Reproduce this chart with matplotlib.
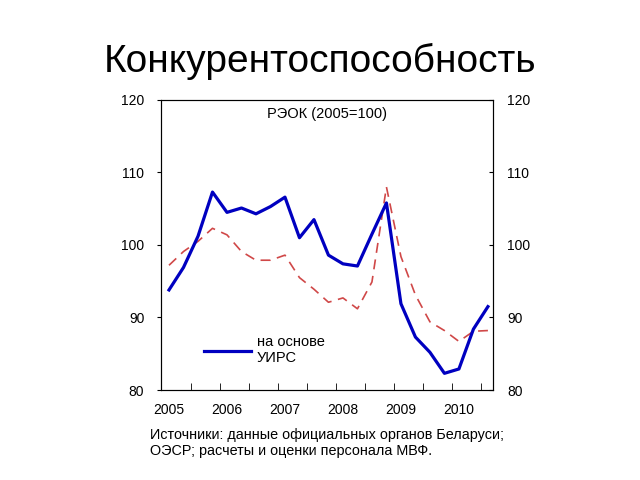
import numpy as np
import matplotlib.pyplot as plt

plt.rcParams['font.family'] = ['Liberation Sans', 'DejaVu Sans']

# quarterly data, 2005Q1 .. 2010Q3
quarters = np.arange(23)
reer_uirs = [93.8, 96.9, 101.2, 107.3, 104.5, 105.1, 104.3, 105.3, 106.6, 101.0,
             103.5, 98.6, 97.4, 97.1, 101.5, 105.8, 91.9, 87.3, 85.2, 82.3,
             82.9, 88.4, 91.5]
reer_other = [97.2, 99.1, 100.5, 102.3, 101.4, 99.1, 97.9, 97.9, 98.6, 95.5,
              93.9, 92.1, 92.7, 91.2, 94.9, 108.0, 98.4, 93.1, 89.4, 88.2,
              86.7, 88.1, 88.2]
year_labels = ['2005', '2006', '2007', '2008', '2009', '2010']
y_ticks = [80, 90, 100, 110, 120]

fig = plt.figure(figsize=(6.4, 4.8), dpi=100)
fig.text(0.5, 0.872, 'Конкурентоспособность', ha='center', va='center', fontsize=28)

ax = fig.add_axes([0.2516, 0.1875, 0.5187, 0.6042])
ax.plot(quarters, reer_other, color='#d04848', lw=1.2, dashes=(6, 4))
ax.plot(quarters, reer_uirs, color='#0000c0', lw=2.3, label='на основе\nУИРС')

ax.set_xlim(-0.55, 22.35)
ax.set_ylim(80, 120)
ax.set_yticks(y_ticks)
ax.set_xticks(np.arange(0, 24, 4))
ax.set_xticklabels(year_labels)
ax.set_xticks(np.arange(1.5, 22, 2), minor=True)
ax.tick_params(axis='x', which='major', length=0, pad=9, labelsize=10)
ax.tick_params(axis='x', which='minor', direction='in', length=5)
ax.tick_params(axis='y', direction='out', length=3, labelsize=10, pad=9)
for s in ax.spines.values():
    s.set_color('#333333')

ax2 = ax.twinx()
ax2.set_ylim(80, 120)
ax2.set_yticks(y_ticks)
ax2.tick_params(axis='y', direction='in', length=3, labelsize=10, pad=10)

ax.text(0.5, 0.95, 'РЭОК (2005=100)', transform=ax.transAxes, ha='center',
        va='center', fontsize=10.5)
ax.legend(loc='lower left', bbox_to_anchor=(0.09, 0.04), frameon=False,
          fontsize=10.5, handlelength=3.2, handletextpad=0.4)

fig.text(0.234, 0.077, 'Источники: данные официальных органов Беларуси;\n'
         'ОЭСР; расчеты и оценки персонала МВФ.', ha='left', va='center',
         fontsize=10.4, linespacing=1.2)

fig.savefig('out.png', dpi=100)
